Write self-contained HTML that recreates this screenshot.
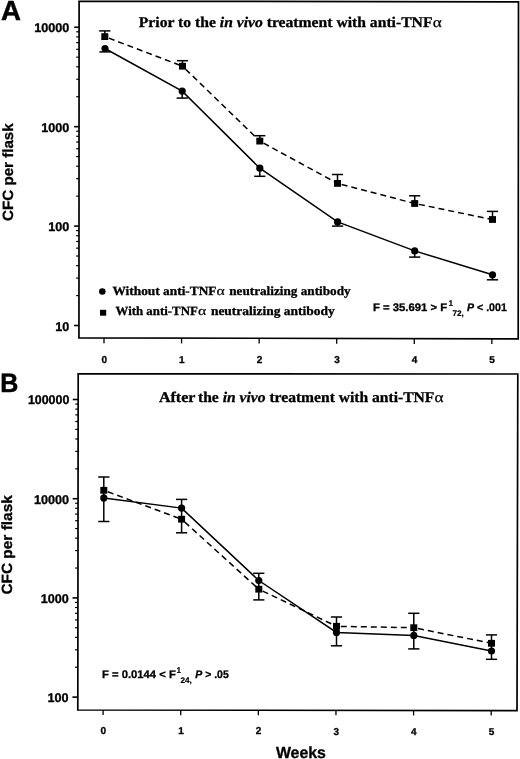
<!DOCTYPE html>
<html><head><meta charset="utf-8"><title>CFC per flask</title><style>
html,body{margin:0;padding:0;background:#fff;}
body{width:520px;height:759px;overflow:hidden;}
svg{display:block;will-change:transform;}
text{font-family:"Liberation Sans",sans-serif;fill:#000;stroke:#000;stroke-width:0.3px;text-rendering:geometricPrecision;}
.ylab{font-size:12.6px;font-weight:bold;stroke-width:0.35px;}
.xlab{font-size:10px;font-weight:bold;}
.pl{font-size:27.6px;font-weight:bold;stroke-width:0.5px;}
.yl{font-size:14.8px;font-weight:bold;}
.wk{font-size:16.1px;font-weight:bold;}
.ttl{font-family:"Liberation Serif",serif;font-size:14.8px;font-weight:bold;}
.it{font-style:italic;}
.al{font-family:"Liberation Serif",serif;font-weight:normal;font-size:14.5px;stroke-width:0.25px;}
.lg{font-family:"Liberation Serif",serif;font-size:12.5px;font-weight:bold;}
.al2{font-family:"Liberation Serif",serif;font-weight:normal;font-size:13px;stroke-width:0.2px;}
.fs{font-size:11px;font-weight:bold;}
.fi{font-style:italic;}
.ss{font-size:8.2px;font-weight:bold;stroke-width:0.2px;}
</style></head><body>
<svg width="520" height="759" viewBox="0 0 520 759">
<rect width="520" height="759" fill="#fff"/>
<polygon points="79.1,1.25 518.5,1.8 518.2,338.8 78.95,337.9" fill="none" stroke="#000" stroke-width="1.7" stroke-linejoin="miter"/>
<line x1="74.19" y1="27.25" x2="79.09" y2="27.25" stroke="#000" stroke-width="1.6"/>
<text x="69.3" y="32.45" text-anchor="end" class="ylab">10000</text>
<line x1="76.19" y1="96.74" x2="79.09" y2="96.74" stroke="#000" stroke-width="1.2"/>
<line x1="76.19" y1="79.23" x2="79.09" y2="79.23" stroke="#000" stroke-width="1.2"/>
<line x1="76.19" y1="66.81" x2="79.09" y2="66.81" stroke="#000" stroke-width="1.2"/>
<line x1="76.19" y1="57.18" x2="79.09" y2="57.18" stroke="#000" stroke-width="1.2"/>
<line x1="76.19" y1="49.31" x2="79.09" y2="49.31" stroke="#000" stroke-width="1.2"/>
<line x1="76.19" y1="42.65" x2="79.09" y2="42.65" stroke="#000" stroke-width="1.2"/>
<line x1="76.19" y1="36.88" x2="79.09" y2="36.88" stroke="#000" stroke-width="1.2"/>
<line x1="76.19" y1="31.8" x2="79.09" y2="31.8" stroke="#000" stroke-width="1.2"/>
<line x1="74.14" y1="126.67" x2="79.04" y2="126.67" stroke="#000" stroke-width="1.6"/>
<text x="69.3" y="131.87" text-anchor="end" class="ylab">1000</text>
<line x1="76.14" y1="196.16" x2="79.04" y2="196.16" stroke="#000" stroke-width="1.2"/>
<line x1="76.14" y1="178.65" x2="79.04" y2="178.65" stroke="#000" stroke-width="1.2"/>
<line x1="76.14" y1="166.23" x2="79.04" y2="166.23" stroke="#000" stroke-width="1.2"/>
<line x1="76.14" y1="156.6" x2="79.04" y2="156.6" stroke="#000" stroke-width="1.2"/>
<line x1="76.14" y1="148.73" x2="79.04" y2="148.73" stroke="#000" stroke-width="1.2"/>
<line x1="76.14" y1="142.07" x2="79.04" y2="142.07" stroke="#000" stroke-width="1.2"/>
<line x1="76.14" y1="136.3" x2="79.04" y2="136.3" stroke="#000" stroke-width="1.2"/>
<line x1="76.14" y1="131.22" x2="79.04" y2="131.22" stroke="#000" stroke-width="1.2"/>
<line x1="74.1" y1="226.09" x2="79" y2="226.09" stroke="#000" stroke-width="1.6"/>
<text x="69.3" y="231.29" text-anchor="end" class="ylab">100</text>
<line x1="76.1" y1="295.58" x2="79" y2="295.58" stroke="#000" stroke-width="1.2"/>
<line x1="76.1" y1="278.07" x2="79" y2="278.07" stroke="#000" stroke-width="1.2"/>
<line x1="76.1" y1="265.65" x2="79" y2="265.65" stroke="#000" stroke-width="1.2"/>
<line x1="76.1" y1="256.02" x2="79" y2="256.02" stroke="#000" stroke-width="1.2"/>
<line x1="76.1" y1="248.15" x2="79" y2="248.15" stroke="#000" stroke-width="1.2"/>
<line x1="76.1" y1="241.49" x2="79" y2="241.49" stroke="#000" stroke-width="1.2"/>
<line x1="76.1" y1="235.72" x2="79" y2="235.72" stroke="#000" stroke-width="1.2"/>
<line x1="76.1" y1="230.64" x2="79" y2="230.64" stroke="#000" stroke-width="1.2"/>
<line x1="74.06" y1="325.51" x2="78.96" y2="325.51" stroke="#000" stroke-width="1.6"/>
<text x="69.3" y="330.71" text-anchor="end" class="ylab">10</text>
<line x1="104" y1="337.95" x2="104" y2="343.25" stroke="#000" stroke-width="1.3"/>
<text x="104.3" y="362.7" text-anchor="middle" class="xlab">0</text>
<line x1="181.57" y1="338.11" x2="181.57" y2="343.41" stroke="#000" stroke-width="1.3"/>
<text x="181.87" y="362.82" text-anchor="middle" class="xlab">1</text>
<line x1="259.14" y1="338.27" x2="259.14" y2="343.57" stroke="#000" stroke-width="1.3"/>
<text x="259.44" y="362.94" text-anchor="middle" class="xlab">2</text>
<line x1="336.71" y1="338.43" x2="336.71" y2="343.73" stroke="#000" stroke-width="1.3"/>
<text x="337.01" y="363.06" text-anchor="middle" class="xlab">3</text>
<line x1="414.28" y1="338.59" x2="414.28" y2="343.89" stroke="#000" stroke-width="1.3"/>
<text x="414.58" y="363.18" text-anchor="middle" class="xlab">4</text>
<line x1="491.85" y1="338.75" x2="491.85" y2="344.05" stroke="#000" stroke-width="1.3"/>
<text x="492.15" y="363.3" text-anchor="middle" class="xlab">5</text>
<polygon points="78.2,373.75 517.8,374 517,710.6 77.8,710" fill="none" stroke="#000" stroke-width="1.7" stroke-linejoin="miter"/>
<line x1="72.77" y1="399.5" x2="78.17" y2="399.5" stroke="#000" stroke-width="1.6"/>
<text x="69.3" y="404.45" text-anchor="end" class="ylab" textLength="41.4" lengthAdjust="spacingAndGlyphs">100000</text>
<line x1="75.27" y1="468.84" x2="78.17" y2="468.84" stroke="#000" stroke-width="1.2"/>
<line x1="75.27" y1="451.37" x2="78.17" y2="451.37" stroke="#000" stroke-width="1.2"/>
<line x1="75.27" y1="438.98" x2="78.17" y2="438.98" stroke="#000" stroke-width="1.2"/>
<line x1="75.27" y1="429.36" x2="78.17" y2="429.36" stroke="#000" stroke-width="1.2"/>
<line x1="75.27" y1="421.51" x2="78.17" y2="421.51" stroke="#000" stroke-width="1.2"/>
<line x1="75.27" y1="414.87" x2="78.17" y2="414.87" stroke="#000" stroke-width="1.2"/>
<line x1="75.27" y1="409.11" x2="78.17" y2="409.11" stroke="#000" stroke-width="1.2"/>
<line x1="75.27" y1="404.04" x2="78.17" y2="404.04" stroke="#000" stroke-width="1.2"/>
<line x1="72.65" y1="498.7" x2="78.05" y2="498.7" stroke="#000" stroke-width="1.6"/>
<text x="69" y="503.65" text-anchor="end" class="ylab">10000</text>
<line x1="75.15" y1="568.04" x2="78.05" y2="568.04" stroke="#000" stroke-width="1.2"/>
<line x1="75.15" y1="550.57" x2="78.05" y2="550.57" stroke="#000" stroke-width="1.2"/>
<line x1="75.15" y1="538.18" x2="78.05" y2="538.18" stroke="#000" stroke-width="1.2"/>
<line x1="75.15" y1="528.56" x2="78.05" y2="528.56" stroke="#000" stroke-width="1.2"/>
<line x1="75.15" y1="520.71" x2="78.05" y2="520.71" stroke="#000" stroke-width="1.2"/>
<line x1="75.15" y1="514.07" x2="78.05" y2="514.07" stroke="#000" stroke-width="1.2"/>
<line x1="75.15" y1="508.31" x2="78.05" y2="508.31" stroke="#000" stroke-width="1.2"/>
<line x1="75.15" y1="503.24" x2="78.05" y2="503.24" stroke="#000" stroke-width="1.2"/>
<line x1="72.53" y1="597.9" x2="77.93" y2="597.9" stroke="#000" stroke-width="1.6"/>
<text x="68.7" y="602.85" text-anchor="end" class="ylab">1000</text>
<line x1="75.03" y1="667.24" x2="77.93" y2="667.24" stroke="#000" stroke-width="1.2"/>
<line x1="75.03" y1="649.77" x2="77.93" y2="649.77" stroke="#000" stroke-width="1.2"/>
<line x1="75.03" y1="637.38" x2="77.93" y2="637.38" stroke="#000" stroke-width="1.2"/>
<line x1="75.03" y1="627.76" x2="77.93" y2="627.76" stroke="#000" stroke-width="1.2"/>
<line x1="75.03" y1="619.91" x2="77.93" y2="619.91" stroke="#000" stroke-width="1.2"/>
<line x1="75.03" y1="613.27" x2="77.93" y2="613.27" stroke="#000" stroke-width="1.2"/>
<line x1="75.03" y1="607.51" x2="77.93" y2="607.51" stroke="#000" stroke-width="1.2"/>
<line x1="75.03" y1="602.44" x2="77.93" y2="602.44" stroke="#000" stroke-width="1.2"/>
<line x1="72.42" y1="697.1" x2="77.82" y2="697.1" stroke="#000" stroke-width="1.6"/>
<text x="68.4" y="702.05" text-anchor="end" class="ylab">100</text>
<line x1="103.1" y1="710.03" x2="103.1" y2="715.03" stroke="#000" stroke-width="1.3"/>
<text x="103.4" y="734" text-anchor="middle" class="xlab">0</text>
<line x1="180.72" y1="710.14" x2="180.72" y2="715.14" stroke="#000" stroke-width="1.3"/>
<text x="181.02" y="734.22" text-anchor="middle" class="xlab">1</text>
<line x1="258.34" y1="710.25" x2="258.34" y2="715.25" stroke="#000" stroke-width="1.3"/>
<text x="258.64" y="734.44" text-anchor="middle" class="xlab">2</text>
<line x1="335.96" y1="710.35" x2="335.96" y2="715.35" stroke="#000" stroke-width="1.3"/>
<text x="336.26" y="734.66" text-anchor="middle" class="xlab">3</text>
<line x1="413.58" y1="710.46" x2="413.58" y2="715.46" stroke="#000" stroke-width="1.3"/>
<text x="413.88" y="734.88" text-anchor="middle" class="xlab">4</text>
<line x1="491.2" y1="710.56" x2="491.2" y2="715.56" stroke="#000" stroke-width="1.3"/>
<text x="491.5" y="735.1" text-anchor="middle" class="xlab">5</text>
<line x1="104.8" y1="36.6" x2="182.5" y2="66.2" stroke="#000" stroke-width="1.5" stroke-dasharray="6 4" stroke-dashoffset="5.7"/>
<line x1="182.5" y1="66.2" x2="259.8" y2="141.1" stroke="#000" stroke-width="1.5" stroke-dasharray="6 4" stroke-dashoffset="5.7"/>
<line x1="259.8" y1="141.1" x2="337.5" y2="183.4" stroke="#000" stroke-width="1.5" stroke-dasharray="6 4" stroke-dashoffset="5.7"/>
<line x1="337.5" y1="183.4" x2="414.7" y2="203.5" stroke="#000" stroke-width="1.5" stroke-dasharray="6 4" stroke-dashoffset="5.7"/>
<line x1="414.7" y1="203.5" x2="492.5" y2="219.5" stroke="#000" stroke-width="1.5" stroke-dasharray="6 4" stroke-dashoffset="5.7"/>
<line x1="104.8" y1="30.9" x2="104.8" y2="36.6" stroke="#000" stroke-width="1.5"/>
<line x1="99.2" y1="30.9" x2="110.4" y2="30.9" stroke="#000" stroke-width="1.5"/>
<rect x="101.3" y="33.2" width="7" height="6.8" fill="#000"/>
<line x1="182.5" y1="60.7" x2="182.5" y2="66.2" stroke="#000" stroke-width="1.5"/>
<line x1="176.9" y1="60.7" x2="188.1" y2="60.7" stroke="#000" stroke-width="1.5"/>
<rect x="179" y="62.8" width="7" height="6.8" fill="#000"/>
<line x1="259.8" y1="135.7" x2="259.8" y2="141.1" stroke="#000" stroke-width="1.5"/>
<line x1="254.2" y1="135.7" x2="265.4" y2="135.7" stroke="#000" stroke-width="1.5"/>
<rect x="256.3" y="137.7" width="7" height="6.8" fill="#000"/>
<line x1="337.5" y1="174.5" x2="337.5" y2="183.4" stroke="#000" stroke-width="1.5"/>
<line x1="331.9" y1="174.5" x2="343.1" y2="174.5" stroke="#000" stroke-width="1.5"/>
<rect x="334" y="180" width="7" height="6.8" fill="#000"/>
<line x1="414.7" y1="195.8" x2="414.7" y2="203.5" stroke="#000" stroke-width="1.5"/>
<line x1="409.1" y1="195.8" x2="420.3" y2="195.8" stroke="#000" stroke-width="1.5"/>
<rect x="411.2" y="200.1" width="7" height="6.8" fill="#000"/>
<line x1="492.5" y1="211.4" x2="492.5" y2="219.5" stroke="#000" stroke-width="1.5"/>
<line x1="486.9" y1="211.4" x2="498.1" y2="211.4" stroke="#000" stroke-width="1.5"/>
<rect x="489" y="216.1" width="7" height="6.8" fill="#000"/>
<path d="M105,48.5 L182.2,91.1 L259.8,168.2 L337.6,221.9 L414.7,250.9 L492.5,274.8" fill="none" stroke="#000" stroke-width="1.5"/>
<line x1="105" y1="48.5" x2="105" y2="51.9" stroke="#000" stroke-width="1.5"/>
<line x1="99.4" y1="51.9" x2="110.6" y2="51.9" stroke="#000" stroke-width="1.5"/>
<circle cx="105" cy="48.5" r="3.6" fill="#000"/>
<line x1="182.2" y1="91.1" x2="182.2" y2="98.1" stroke="#000" stroke-width="1.5"/>
<line x1="176.6" y1="98.1" x2="187.8" y2="98.1" stroke="#000" stroke-width="1.5"/>
<circle cx="182.2" cy="91.1" r="3.6" fill="#000"/>
<line x1="259.8" y1="168.2" x2="259.8" y2="176.3" stroke="#000" stroke-width="1.5"/>
<line x1="254.2" y1="176.3" x2="265.4" y2="176.3" stroke="#000" stroke-width="1.5"/>
<circle cx="259.8" cy="168.2" r="3.6" fill="#000"/>
<line x1="337.6" y1="221.9" x2="337.6" y2="226.1" stroke="#000" stroke-width="1.5"/>
<line x1="332" y1="226.1" x2="343.2" y2="226.1" stroke="#000" stroke-width="1.5"/>
<circle cx="337.6" cy="221.9" r="3.6" fill="#000"/>
<line x1="414.7" y1="250.9" x2="414.7" y2="257.1" stroke="#000" stroke-width="1.5"/>
<line x1="409.1" y1="257.1" x2="420.3" y2="257.1" stroke="#000" stroke-width="1.5"/>
<circle cx="414.7" cy="250.9" r="3.6" fill="#000"/>
<line x1="492.5" y1="274.8" x2="492.5" y2="279.8" stroke="#000" stroke-width="1.5"/>
<line x1="486.9" y1="279.8" x2="498.1" y2="279.8" stroke="#000" stroke-width="1.5"/>
<circle cx="492.5" cy="274.8" r="3.6" fill="#000"/>
<line x1="103.8" y1="490.3" x2="103.8" y2="497.9" stroke="#000" stroke-width="1.5"/>
<line x1="181.6" y1="508.1" x2="181.6" y2="519.2" stroke="#000" stroke-width="1.5"/>
<line x1="258.8" y1="580.5" x2="258.8" y2="589.2" stroke="#000" stroke-width="1.5"/>
<line x1="336.5" y1="626.3" x2="336.5" y2="632.4" stroke="#000" stroke-width="1.5"/>
<line x1="413.8" y1="627.7" x2="413.8" y2="635.4" stroke="#000" stroke-width="1.5"/>
<line x1="491.5" y1="643.3" x2="491.5" y2="651" stroke="#000" stroke-width="1.5"/>
<line x1="103.8" y1="490.3" x2="181.6" y2="519.2" stroke="#000" stroke-width="1.5" stroke-dasharray="6 4" stroke-dashoffset="5.7"/>
<line x1="181.6" y1="519.2" x2="258.8" y2="589.2" stroke="#000" stroke-width="1.5" stroke-dasharray="6 4" stroke-dashoffset="5.7"/>
<line x1="258.8" y1="589.2" x2="336.5" y2="626.3" stroke="#000" stroke-width="1.5" stroke-dasharray="6 4" stroke-dashoffset="5.7"/>
<line x1="336.5" y1="626.3" x2="413.8" y2="627.7" stroke="#000" stroke-width="1.5" stroke-dasharray="6 4" stroke-dashoffset="5.7"/>
<line x1="413.8" y1="627.7" x2="491.5" y2="643.3" stroke="#000" stroke-width="1.5" stroke-dasharray="6 4" stroke-dashoffset="5.7"/>
<line x1="103.8" y1="477" x2="103.8" y2="490.3" stroke="#000" stroke-width="1.5"/>
<line x1="98.2" y1="477" x2="109.4" y2="477" stroke="#000" stroke-width="1.5"/>
<rect x="100.3" y="486.9" width="7" height="6.8" fill="#000"/>
<line x1="181.6" y1="519.2" x2="181.6" y2="532.8" stroke="#000" stroke-width="1.5"/>
<line x1="176" y1="532.8" x2="187.2" y2="532.8" stroke="#000" stroke-width="1.5"/>
<rect x="178.1" y="515.8" width="7" height="6.8" fill="#000"/>
<line x1="258.8" y1="589.2" x2="258.8" y2="599.9" stroke="#000" stroke-width="1.5"/>
<line x1="253.2" y1="599.9" x2="264.4" y2="599.9" stroke="#000" stroke-width="1.5"/>
<rect x="255.3" y="585.8" width="7" height="6.8" fill="#000"/>
<line x1="336.5" y1="617" x2="336.5" y2="626.3" stroke="#000" stroke-width="1.5"/>
<line x1="330.9" y1="617" x2="342.1" y2="617" stroke="#000" stroke-width="1.5"/>
<rect x="333" y="622.9" width="7" height="6.8" fill="#000"/>
<line x1="413.8" y1="613.3" x2="413.8" y2="627.7" stroke="#000" stroke-width="1.5"/>
<line x1="408.2" y1="613.3" x2="419.4" y2="613.3" stroke="#000" stroke-width="1.5"/>
<rect x="410.3" y="624.3" width="7" height="6.8" fill="#000"/>
<line x1="491.5" y1="634.9" x2="491.5" y2="643.3" stroke="#000" stroke-width="1.5"/>
<line x1="485.9" y1="634.9" x2="497.1" y2="634.9" stroke="#000" stroke-width="1.5"/>
<rect x="488" y="639.9" width="7" height="6.8" fill="#000"/>
<path d="M103.8,497.9 L181.6,508.1 L258.8,580.5 L336.5,632.4 L413.8,635.4 L491.5,651" fill="none" stroke="#000" stroke-width="1.5"/>
<line x1="103.8" y1="497.9" x2="103.8" y2="521.5" stroke="#000" stroke-width="1.5"/>
<line x1="98.2" y1="521.5" x2="109.4" y2="521.5" stroke="#000" stroke-width="1.5"/>
<circle cx="103.8" cy="497.9" r="3.6" fill="#000"/>
<line x1="181.6" y1="499.4" x2="181.6" y2="508.1" stroke="#000" stroke-width="1.5"/>
<line x1="176" y1="499.4" x2="187.2" y2="499.4" stroke="#000" stroke-width="1.5"/>
<circle cx="181.6" cy="508.1" r="3.6" fill="#000"/>
<line x1="258.8" y1="573.3" x2="258.8" y2="580.5" stroke="#000" stroke-width="1.5"/>
<line x1="253.2" y1="573.3" x2="264.4" y2="573.3" stroke="#000" stroke-width="1.5"/>
<circle cx="258.8" cy="580.5" r="3.6" fill="#000"/>
<line x1="336.5" y1="632.4" x2="336.5" y2="645.8" stroke="#000" stroke-width="1.5"/>
<line x1="330.9" y1="645.8" x2="342.1" y2="645.8" stroke="#000" stroke-width="1.5"/>
<circle cx="336.5" cy="632.4" r="3.6" fill="#000"/>
<line x1="413.8" y1="635.4" x2="413.8" y2="648.9" stroke="#000" stroke-width="1.5"/>
<line x1="408.2" y1="648.9" x2="419.4" y2="648.9" stroke="#000" stroke-width="1.5"/>
<circle cx="413.8" cy="635.4" r="3.6" fill="#000"/>
<line x1="491.5" y1="651" x2="491.5" y2="659.3" stroke="#000" stroke-width="1.5"/>
<line x1="485.9" y1="659.3" x2="497.1" y2="659.3" stroke="#000" stroke-width="1.5"/>
<circle cx="491.5" cy="651" r="3.6" fill="#000"/>
<text x="0.9" y="20.4" class="pl">A</text>
<text x="0.2" y="391.6" class="pl" style="font-size:26.5px" textLength="18.1" lengthAdjust="spacingAndGlyphs">B</text>
<text transform="translate(12.6,220.9) rotate(-90)" class="yl" textLength="97.6" lengthAdjust="spacingAndGlyphs">CFC per flask</text>
<text transform="translate(12.3,594.6) rotate(-90)" class="yl" textLength="99.4" lengthAdjust="spacingAndGlyphs">CFC per flask</text>
<text x="275.9" y="757.8" class="wk" textLength="50" lengthAdjust="spacingAndGlyphs">Weeks</text>
<text x="138.8" y="26.5" class="ttl" textLength="293.7" lengthAdjust="spacingAndGlyphs">Prior to the <tspan class="it">in vivo</tspan> treatment with anti-TNF</text>
<text x="432.7" y="26.5" class="al" textLength="9" lengthAdjust="spacingAndGlyphs">α</text>
<text x="158.9" y="401.5" class="ttl" textLength="36.6" lengthAdjust="spacingAndGlyphs">After</text>
<text x="198" y="401.5" class="ttl" textLength="236.4" lengthAdjust="spacingAndGlyphs">the <tspan class="it">in vivo</tspan> treatment with anti-TNF</text>
<text x="434.5" y="401.5" class="al" textLength="9" lengthAdjust="spacingAndGlyphs">α</text>
<circle cx="102.3" cy="291.6" r="3.25" fill="#000"/>
<rect x="100.0" y="309.8" width="6.2" height="5.9" fill="#000"/>
<text x="112.5" y="294.9" class="lg" textLength="104" lengthAdjust="spacingAndGlyphs">Without anti-TNF</text>
<text x="216.5" y="294.9" class="al2" textLength="8.3" lengthAdjust="spacingAndGlyphs">α</text>
<text x="229.2" y="294.9" class="lg" textLength="121.5" lengthAdjust="spacingAndGlyphs">neutralizing antibody</text>
<text x="115.5" y="314.9" class="lg" textLength="82.3" lengthAdjust="spacingAndGlyphs">With anti-TNF</text>
<text x="197.9" y="314.9" class="al2" textLength="8.3" lengthAdjust="spacingAndGlyphs">α</text>
<text x="210.9" y="314.9" class="lg" textLength="123.9" lengthAdjust="spacingAndGlyphs">neutralizing antibody</text>
<text x="372.9" y="310.6" class="fs" textLength="74.3" lengthAdjust="spacingAndGlyphs">F = 35.691 &gt; F</text>
<text x="448.5" y="306.3" class="ss">1</text>
<text x="452.5" y="315.9" class="ss">72,</text>
<text x="467" y="310.6" class="fs" textLength="39.8" lengthAdjust="spacingAndGlyphs"><tspan class="fi">P</tspan> &lt; .001</text>
<text x="102" y="677.5" class="fs" textLength="73.8" lengthAdjust="spacingAndGlyphs">F = 0.0144 &lt; F</text>
<text x="176.5" y="673.2" class="ss">1</text>
<text x="180.5" y="682.8" class="ss">24,</text>
<text x="195.3" y="677.5" class="fs" textLength="33.4" lengthAdjust="spacingAndGlyphs"><tspan class="fi">P</tspan> &gt; .05</text>
</svg>
</body></html>
